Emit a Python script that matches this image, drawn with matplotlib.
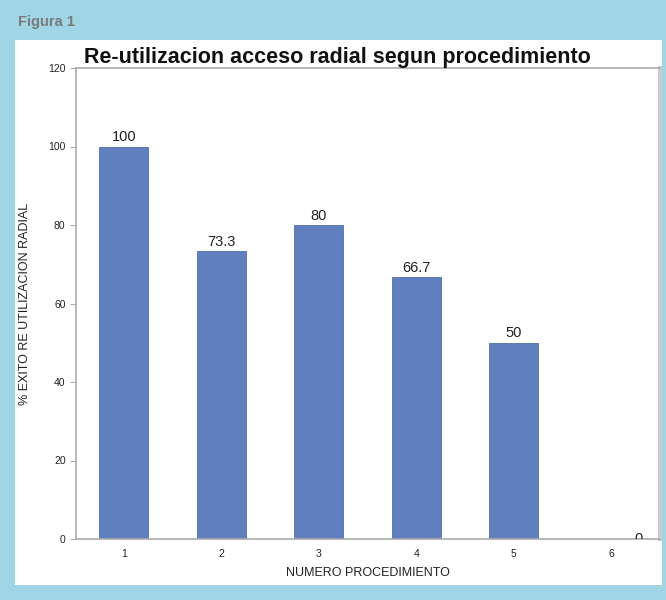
import matplotlib.pyplot as plt

procedimientos = [1, 2, 3, 4, 5, 6]
exito = [100, 73.3, 80, 66.7, 50, 0]
etiquetas = ["100", "73.3", "80", "66.7", "50", "0"]

plt.rcParams['font.family'] = ['Liberation Sans', 'DejaVu Sans']

W, H = 666, 600
fig = plt.figure(figsize=(W / 100, H / 100), dpi=100)
fig.patch.set_facecolor('#9fd5e5')

# white panel behind the chart
bg = fig.add_axes([15 / W, 1 - 585 / H, (662 - 15) / W, (585 - 40) / H], zorder=-1)
bg.set_facecolor('white')
bg.set_xticks([])
bg.set_yticks([])
for s in bg.spines.values():
    s.set_visible(False)

fig.text(18 / W, 1 - 22 / H, "Figura 1", fontsize=10.5, fontweight='bold',
         color='#7a7a7a', va='center', ha='left')

ax = fig.add_axes([76 / W, 1 - 539 / H, (660 - 76) / W, (539 - 68) / H])
ax.set_facecolor('white')
bars = ax.bar(procedimientos, exito, width=0.5, color='#5f7fbf',
              edgecolor='#4f6fae', linewidth=0.6)
bars[-1].set_edgecolor('#999999')

for x, v, t in zip(procedimientos, exito, etiquetas):
    if v == 0:
        # label of the empty bar is half hidden by the axis, as in the original
        ax.text(x + 0.28, 0, t, ha='center', va='center', fontsize=10.5,
                color='#222222', clip_on=True)
    else:
        ax.text(x, v + 0.6, t, ha='center', va='bottom', fontsize=10.5,
                color='#222222')

ax.set_xlim(0.51, 6.5)
ax.set_ylim(0, 120)
ax.set_yticks([0, 20, 40, 60, 80, 100, 120])
ax.set_xticks(procedimientos)
ax.tick_params(labelsize=7.5, colors='#222222', length=4, width=0.6)
ax.tick_params(axis='y', color='#999999')
ax.tick_params(axis='x', length=0, pad=7)
for s in ['left', 'top', 'bottom']:
    ax.spines[s].set_color('#aaaaaa')
    ax.spines[s].set_linewidth(1.2)
ax.spines['right'].set_color('#cccccc')
ax.spines['right'].set_linewidth(3)

ax.set_xlabel("NUMERO PROCEDIMIENTO", fontsize=9, color='#222222', labelpad=6)
ax.set_ylabel("% EXITO RE UTILIZACION RADIAL", fontsize=9, color='#222222',
              labelpad=12)

fig.text(337 / W, 1 - 57 / H, "Re-utilizacion acceso radial segun procedimiento",
         fontsize=15.5, fontweight='bold', ha='center', va='center', color='#111111')

fig.savefig('out.png', dpi=100, facecolor=fig.get_facecolor())
